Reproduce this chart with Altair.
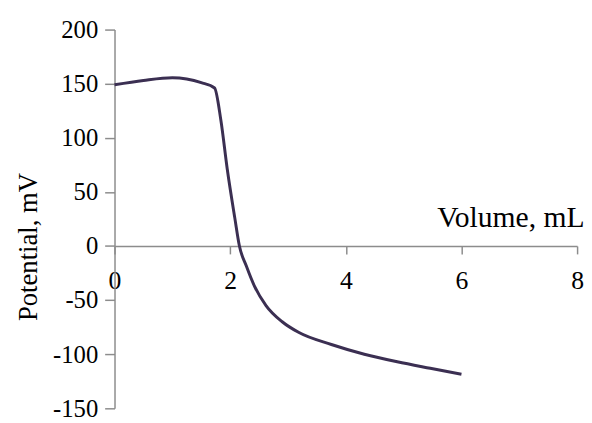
import altair as alt
import pandas as pd

volume = [0, 0.5, 1.0, 1.5, 1.73, 1.84, 1.95, 2.08, 2.16, 2.28, 2.42, 2.62, 2.9, 3.19, 3.75, 4.32, 4.89, 5.46, 6.0]
potential = [149, 153, 155.5, 151, 146, 116, 71, 26, 0, -18.5, -37, -55, -70, -80, -91, -100, -107, -113, -118.5]

x_ticks = [0, 2, 4, 6, 8]
y_ticks = [-150, -100, -50, 0, 50, 100, 150, 200]

df = pd.DataFrame({"Volume": volume, "Potential": potential})

W, H = 469, 384
y0 = H * 200 / 350.0
font = "Liberation Serif"

chart = alt.Chart(df).mark_line(
    color="#3b2f52", strokeWidth=3, interpolate="monotone"
).encode(
    x=alt.X("Volume:Q",
            scale=alt.Scale(domain=[0, 8], nice=False, zero=False),
            axis=alt.Axis(values=x_ticks, title="Volume, mL", grid=False,
                          offset=-(H - y0), tickSize=8, labelPadding=14,
                          labelFontSize=26,
                          titleX=476, titleY=-20, titleAlign="right",
                          titleFontSize=30,
                          titleBaseline="alphabetic", titleAnchor="end")),
    y=alt.Y("Potential:Q",
            scale=alt.Scale(domain=[-150, 200], nice=False, zero=False),
            axis=alt.Axis(values=y_ticks, title="Potential, mV", grid=False,
                          tickSize=10, labelPadding=7,
                          labelFontSize=25, titleFontSize=27,
                          labelExpr="'' + datum.value",
                          titleX=-87, titleY=220, titleAngle=270,
                          titleAlign="center", titleBaseline="middle")),
).properties(
    width=W, height=H,
    autosize=alt.AutoSizeParams(type="none"),
    padding={"left": 108, "top": 19, "right": 7, "bottom": 12},
).configure_view(stroke=None).configure_axis(
    domainColor="#8c8c8c", tickColor="#8c8c8c", domainWidth=1.5, tickWidth=1.5,
    labelFont=font, titleFont=font,
    labelColor="#000000", titleColor="#000000", titleFontWeight="normal",
    labelFlush=False, labelOverlap=False,
)

chart.save("out.html", embed_options={"renderer": "svg", "actions": False})
